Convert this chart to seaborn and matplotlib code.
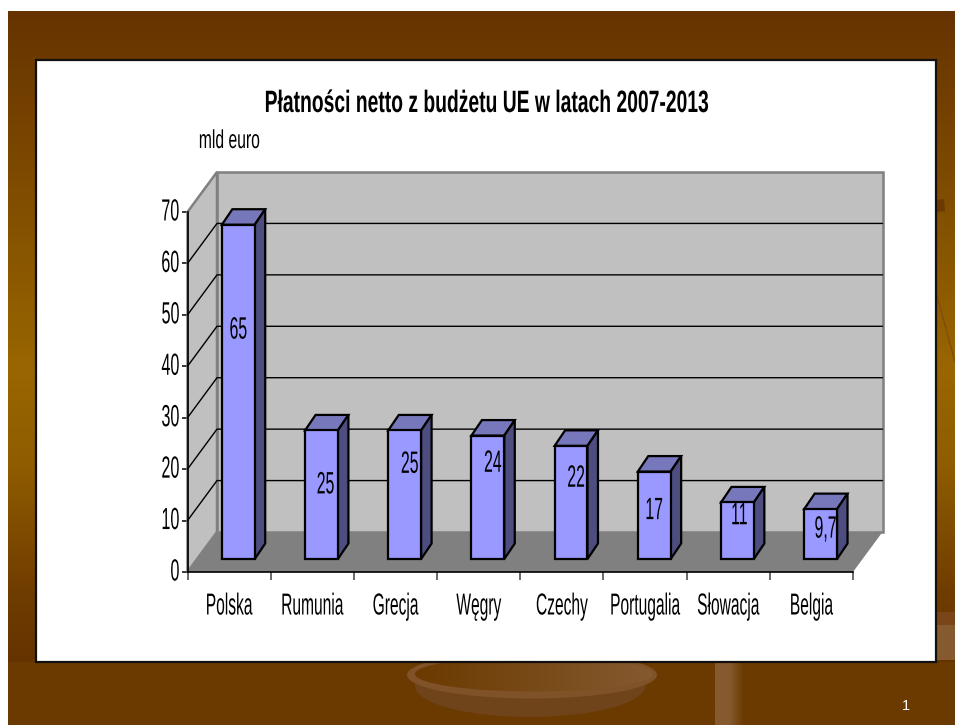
import numpy as np
import pandas as pd
import matplotlib
matplotlib.use("Agg")
import matplotlib.pyplot as plt
import seaborn as sns
from matplotlib.colors import LinearSegmentedColormap
from matplotlib.patches import Ellipse, Polygon, Rectangle
from matplotlib.patheffects import AbstractPathEffect
from matplotlib.transforms import Affine2D, IdentityTransform

# Chart content
countries = ["Polska", "Rumunia", "Grecja", "Węgry", "Czechy", "Portugalia", "Słowacja", "Belgia"]
payments = [65, 25, 25, 24, 22, 17, 11, 9.7]
value_labels = ["65", "25", "25", "24", "22", "17", "11", "9,7"]
y_ticks = [0, 10, 20, 30, 40, 50, 60, 70]
title_text = "Płatności netto z budżetu UE w latach 2007-2013"
unit_text = "mld euro"

# Hand-placed data label anchors: height on the value scale, sideways nudge in pixels
label_heights = [44.7, 14.6, 18.6, 18.8, 15.9, 9.6, 8.6, 6.0]
label_nudges = [0, 4, 5, 5, 5, 0, 2, 5]

W, H = 955, 725
FONT = ["Liberation Sans", "DejaVu Sans"]
WALL_DEPTH = (29.5, 40.0)
BAR_SHIFT = (9.2, 13.0)
BAR_DEPTH = (10.5, 15.5)
BAR_FACE, BAR_TOP, BAR_SIDE = "#9999FF", "#7777BB", "#4D4D80"


class TallText(AbstractPathEffect):
    """Draws text stretched vertically about its baseline, for a condensed look."""

    def __init__(self, stretch, lift=0.0):
        super().__init__()
        self.stretch = stretch
        self.lift = lift

    def draw_path(self, renderer, gc, tpath, affine, rgbFace=None):
        base = affine.transform((0, 0))[1]
        tall = Affine2D().translate(0, -base).scale(1, self.stretch).translate(0, base + self.lift)
        renderer.draw_path(gc, tpath, affine + tall, rgbFace)


sns.set_theme(style="white")
plt.rcParams["font.family"] = FONT

fig = plt.figure(figsize=(W / 100, H / 100), dpi=100, facecolor="white")

# Slide backdrop, in pixel coordinates
bg = fig.add_axes([0, 0, 1, 1], zorder=0)
bg.set_xlim(0, W)
bg.set_ylim(H, 0)
bg.axis("off")
slide_cmap = LinearSegmentedColormap.from_list(
    "slide", [(0, "#663300"), (0.55, "#996600"), (0.70, "#8F5C00"), (0.90, "#6F3C00"), (1, "#663300")]
)
bg.imshow(np.linspace(0, 1, 256)[:, None], cmap=slide_cmap, aspect="auto",
          extent=(8, W, 662, 11), zorder=0)
bg.add_patch(Rectangle((8, 662), W - 8, H - 662, fc="#6B3A00", ec="none", zorder=0.5))

# Scale pan and post behind the slide panel
wood = LinearSegmentedColormap.from_list("wood", ["#6B3A00", "#855A2F"])
bg.add_patch(Ellipse((530, 686), 230, 62, fc="#70441A", ec="none", zorder=1))
bg.add_patch(Ellipse((532, 675), 250, 47, fc="#7F5227", ec="none", zorder=1.1))
pan = bg.imshow(np.linspace(0, 1, 128)[None, :], cmap=wood, aspect="auto",
                extent=(414, 654, 695, 655), zorder=1.2)
pan.set_clip_path(Ellipse((534, 674), 238, 35, transform=bg.transData))
post = LinearSegmentedColormap.from_list("post", ["#855A2F", "#855A2F", "#6B3A00"])
bg.imshow(np.linspace(0, 1, 64)[None, :], cmap=post, aspect="auto",
          extent=(715, 744, H, 662), zorder=1)
bg.add_patch(Rectangle((936, 612), 19, 13, fc="#7A4518", ec="none", zorder=1))
bg.add_patch(Rectangle((936, 625), 19, 35, fc="#855A2F", ec="none", zorder=1))
bg.add_patch(Polygon([(936, 200), (944, 199), (945, 211), (936, 212)], fc="#6B3A00", ec="none", zorder=1))
bg.plot([936, 955], [292, 362], color="#7A4A10", lw=0.8, zorder=1)
bg.set_xlim(0, W)
bg.set_ylim(H, 0)

# White content panel
bg.add_patch(Rectangle((35.5, 60), 900.5, 602, fc="white", ec="#111111", lw=1.6, zorder=2))

# Value axes sit on the front plane of the box
ax = fig.add_axes([187.5 / W, (H - 572) / H, 665.5 / W, 360 / H], zorder=1)
ax.patch.set_visible(False)
frame = pd.DataFrame({"country": countries, "payment": payments})
sns.barplot(data=frame, x="country", y="payment", color=BAR_FACE, saturation=1,
            width=0.395, edgecolor="black", linewidth=1.6, ax=ax, zorder=5)
ax.set_xlim(-0.5, len(countries) - 0.5)
ax.set_ylim(y_ticks[0], y_ticks[-1])
ax.set_xlabel("")
ax.set_ylabel("")
fig.canvas.draw()


def screen(x, y, dx=0.0, dy=0.0):
    """Data point to pixels, moved back into the box by (dx, dy)."""
    px, py = ax.transData.transform((x, y))
    return px + dx, py + dy


def face(points, **style):
    ax.add_patch(Polygon(points, transform=IdentityTransform(), clip_on=False, **style))


x0, x1 = ax.get_xlim()
ymax = y_ticks[-1]
wd = WALL_DEPTH

# Back wall, left wall and floor
face([screen(x0, 0, *wd), screen(x1, 0, *wd), screen(x1, ymax, *wd), screen(x0, ymax, *wd)],
     fc="#C0C0C0", ec="#808080", lw=1.8, zorder=1)
face([screen(x0, 0), screen(x0, 0, *wd), screen(x0, ymax, *wd), screen(x0, ymax)],
     fc="#C0C0C0", ec="#808080", lw=1.8, zorder=1)
face([screen(x0, 0), screen(x1, 0), screen(x1, 0, *wd), screen(x0, 0, *wd)],
     fc="#808080", ec="none", zorder=1.5)

# Grid lines wrap from the front axis over the left wall and along the back wall
for v in y_ticks[1:-1]:
    pts = np.array([screen(x0, v), screen(x0, v, *wd), screen(x1, v, *wd)])
    ax.plot(pts[:, 0], pts[:, 1], color="black", lw=1.0, transform=IdentityTransform(),
            clip_on=False, zorder=2)

# Move the flat bars into the box and give them top and side faces
bar_offset = ax.transData + Affine2D().translate(*BAR_SHIFT)
dx, dy = BAR_SHIFT
bx, by = BAR_DEPTH
edge = dict(ec="black", lw=1.6, joinstyle="miter")
for bar in ax.patches[:]:
    if not isinstance(bar, Rectangle) or bar.get_height() <= 0:
        continue
    left, right = bar.get_x(), bar.get_x() + bar.get_width()
    top = bar.get_height()
    bar.set_transform(bar_offset)
    bar.set_clip_on(False)
    bar.set_joinstyle("miter")
    face([screen(left, top, dx, dy), screen(right, top, dx, dy),
          screen(right, top, dx + bx, dy + by), screen(left, top, dx + bx, dy + by)],
         fc=BAR_TOP, zorder=4, **edge)
    face([screen(right, 0, dx, dy), screen(right, 0, dx + bx, dy + by),
          screen(right, top, dx + bx, dy + by), screen(right, top, dx, dy)],
         fc=BAR_SIDE, zorder=4, **edge)

# Data labels
for i, (text, height, nudge) in enumerate(zip(value_labels, label_heights, label_nudges)):
    ax.text(i, height, text, transform=ax.transData + Affine2D().translate(dx + nudge, dy),
            ha="center", va="center", fontsize=11.4, color="black", zorder=7, clip_on=False,
            path_effects=[TallText(1.95, lift=-5.0)])

# Axes: ticks fall between the categories, labels sit under the categories
for name in ("top", "right"):
    ax.spines[name].set_visible(False)
for name in ("left", "bottom"):
    ax.spines[name].set_color("black")
    ax.spines[name].set_linewidth(1.2)
    ax.spines[name].set_zorder(3)
ax.set_yticks(y_ticks)
ax.set_xticks(range(len(countries)))
ax.set_xticklabels(countries)
ax.set_xticks(np.arange(x0, x1 + 0.5), minor=True)
ax.tick_params(axis="x", which="major", length=0, pad=30.6, labelsize=11.2, colors="black")
ax.tick_params(axis="x", which="minor", bottom=True, length=5.8, width=1.1, color="#404040")
ax.tick_params(axis="y", left=True, length=4.3, width=1.1, pad=1.5, labelsize=11.6, colors="black")
for label in ax.get_xticklabels():
    label.set_verticalalignment("baseline")
    label.set_path_effects([TallText(1.95)])
for label in ax.get_yticklabels():
    label.set_path_effects([TallText(1.9, lift=-2.5)])

# Slide furniture text, placed on the pixel layer above the panel
bg.text(486, 112, title_text, ha="center", va="baseline", fontsize=13.9, fontweight="bold",
        color="black", zorder=3, path_effects=[TallText(1.6)])
bg.text(229.5, 148, unit_text, ha="center", va="baseline", fontsize=11.3, color="black", zorder=3,
        path_effects=[TallText(1.65)])
bg.text(905.5, 710, "1", ha="center", va="baseline", fontsize=10.5, color="white", zorder=3)

fig.savefig("out.png", dpi=100, facecolor="white")
